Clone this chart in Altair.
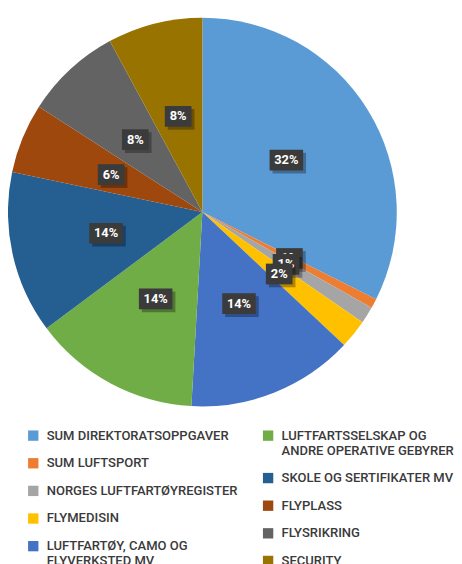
import altair as alt
import pandas as pd

categories = [
    "SUM DIREKTORATSOPPGAVER",
    "SUM LUFTSPORT",
    "NORGES LUFTFARTØYREGISTER",
    "FLYMEDISIN",
    "LUFTFARTØY, CAMO OG|FLYVERKSTED MV",
    "LUFTFARTSSELSKAP OG|ANDRE OPERATIVE GEBYRER",
    "SKOLE OG SERTIFIKATER MV",
    "FLYPLASS",
    "FLYSRIKRING",
    "SECURITY",
]
values = [32.4, 0.8, 1.4, 2.4, 13.9, 13.9, 13.5, 5.8, 8.0, 7.9]
colors = ["#5B9BD5", "#ED7D31", "#A5A5A5", "#FFC000", "#4472C4",
          "#70AD47", "#255E91", "#9E480E", "#636363", "#997300"]

df = pd.DataFrame({"cat": categories, "value": values, "idx": list(range(len(values)))})

W = 392
R_OUT = 197
R_LBL = 100
FONT = "Roboto"

base = alt.Chart(df)

arc = base.mark_arc(outerRadius=R_OUT).encode(
    theta=alt.Theta("value:Q", stack=True),
    order=alt.Order("idx:Q"),
    color=alt.Color("cat:N", scale=alt.Scale(domain=categories, range=colors), legend=None),
)

lbl = base.transform_joinaggregate(total="sum(value)").transform_window(
    cum="sum(value)", sort=[alt.SortField("idx")], frame=[None, 0]
).transform_calculate(
    mid="(datum.cum - datum.value/2)/datum.total*2*PI",
    label="round(datum.value/datum.total*100) + '%'",
).transform_calculate(
    bx=f"{R_LBL}*sin(datum.mid)",
    by=f"{R_LBL}*cos(datum.mid)",
    w="7*length(datum.label)+13",
).transform_calculate(
    x1="datum.bx - datum.w/2", x2="datum.bx + datum.w/2",
    y1="datum.by - 10.5", y2="datum.by + 10.5",
    sx1="datum.bx - datum.w/2 + 3", sx2="datum.bx + datum.w/2 + 3",
    sy1="datum.by - 13.5", sy2="datum.by + 7.5",
)

xs = alt.Scale(domain=[-W / 2, W / 2])
ys = alt.Scale(domain=[-W / 2, W / 2])

layers = [arc]
for i in range(len(values)):
    f = lbl.transform_filter(f"datum.idx == {i}")
    shadow = f.mark_rect(color="#000000", opacity=0.3).encode(
        x=alt.X("sx1:Q", scale=xs, axis=None), x2="sx2:Q",
        y=alt.Y("sy1:Q", scale=ys, axis=None), y2="sy2:Q",
    )
    box = f.mark_rect(color="#3b3b3b").encode(
        x=alt.X("x1:Q", scale=xs, axis=None), x2="x2:Q",
        y=alt.Y("y1:Q", scale=ys, axis=None), y2="y2:Q",
    )
    txt = f.mark_text(color="white", font=FONT, fontSize=13, fontWeight="bold").encode(
        x=alt.X("bx:Q", scale=xs, axis=None),
        y=alt.Y("by:Q", scale=ys, axis=None),
        text="label:N",
    )
    layers += [shadow, box, txt]

leg_common = dict(
    orient="none", title=None, symbolType="square", symbolSize=110,
    symbolOpacity=1, symbolStrokeWidth=0, labelFont=FONT, labelFontSize=13.2,
    labelFontWeight=500, labelColor="#3a3a3a", labelLimit=300, rowPadding=14,
    labelExpr="split(datum.label, '|')", symbolOffset=0, labelOffset=7,
    direction="vertical",
)

left_cats = categories[:5]
right_cats = categories[5:]

legL = alt.Chart(pd.DataFrame({"cat": left_cats})).mark_square(opacity=0, filled=True).encode(
    color=alt.Color("cat:N", scale=alt.Scale(domain=left_cats, range=colors[:5]),
                    legend=alt.Legend(legendX=18, legendY=416, **leg_common))
)
legR = alt.Chart(pd.DataFrame({"cat": right_cats})).mark_square(opacity=0, filled=True).encode(
    color=alt.Color("cat:N", scale=alt.Scale(domain=right_cats, range=colors[5:]),
                    legend=alt.Legend(legendX=256, legendY=416, **leg_common))
)

chart = alt.layer(*layers, legL, legR).resolve_scale(color="independent").properties(
    width=W, height=W, background="white",
    padding={"left": 0, "top": 6, "right": 0, "bottom": 0},
).configure_view(stroke=None, strokeWidth=0).configure_axis(
    domain=False, ticks=False, labels=False, grid=False
)

chart.save("out.html", embed_options={"renderer": "svg", "actions": False})
